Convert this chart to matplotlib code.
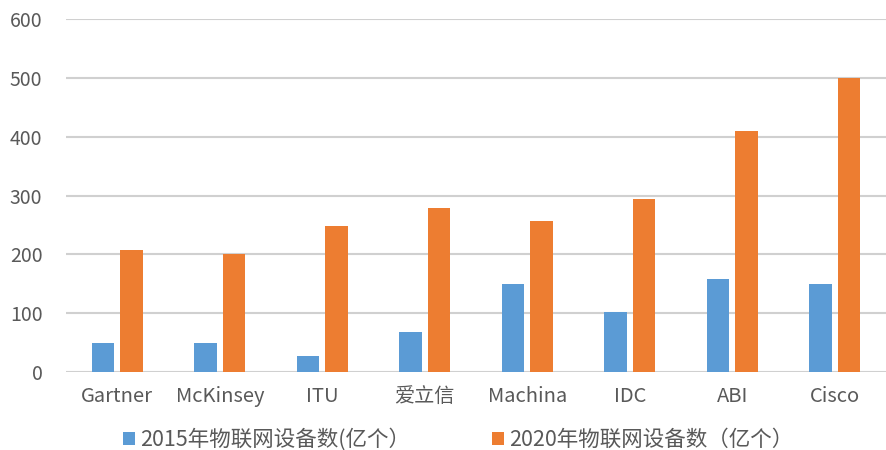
import numpy as np
import matplotlib.pyplot as plt

plt.rcParams['font.family'] = ['Noto Sans CJK SC', 'DejaVu Sans']

# ========================
# Data
# ========================
categories = ['Gartner', 'McKinsey', 'ITU', '爱立信', 'Machina', 'IDC', 'ABI', 'Cisco']
devices_2015 = [50, 50, 28, 69, 150, 103, 159, 150]
devices_2020 = [207, 200, 249, 279, 256, 294, 409, 500]
label_2015 = '2015年物联网设备数(亿个）'
label_2020 = '2020年物联网设备数（亿个）'

blue = '#5B9BD5'
orange = '#ED7D31'
text_grey = '#595959'

# ========================
# Plot
# ========================
fig = plt.figure(figsize=(8.86, 4.5), dpi=100)
ax = fig.add_axes([0.0745, 0.173, 0.9255, 0.785])

x = np.arange(len(categories))
offset = 0.137
width = 0.22
ax.bar(x - offset, devices_2015, width, color=blue, label=label_2015, zorder=3)
ax.bar(x + offset, devices_2020, width, color=orange, label=label_2020, zorder=3)

ax.set_xlim(-0.5, len(categories) - 0.5)
ax.set_ylim(0, 600)
ax.set_yticks(range(0, 601, 100))
ax.set_xticks(x)
ax.set_xticklabels(categories)
ax.grid(axis='y', color='#d0d0d0', linewidth=1.5, zorder=0)
ax.set_axisbelow(True)
for side in ['left', 'right', 'top', 'bottom']:
    ax.spines[side].set_visible(False)
ax.tick_params(axis='y', length=0, labelsize=14, colors=text_grey, pad=17)
ax.tick_params(axis='x', length=0, labelsize=14.5, colors=text_grey, pad=10)

leg = fig.legend(loc='lower center', bbox_to_anchor=(0.517, -0.045), ncol=2, frameon=False,
                 fontsize=15.5, handlelength=0.55, handleheight=0.55, handletextpad=0.25,
                 columnspacing=3.8)
for t in leg.get_texts():
    t.set_color(text_grey)

fig.savefig('out.png', dpi=100)
